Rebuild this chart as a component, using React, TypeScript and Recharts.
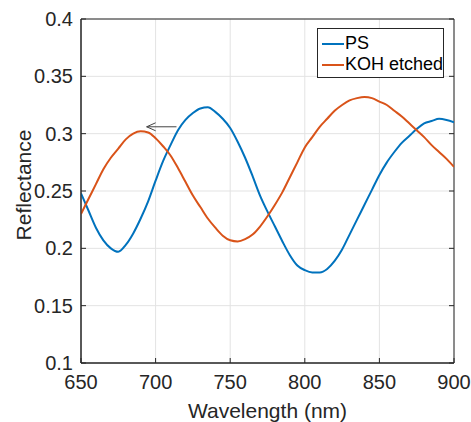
import React from "react";
import {
  CartesianGrid,
  Label,
  Legend,
  Line,
  LineChart,
  ReferenceArea,
  ReferenceLine,
  XAxis,
  YAxis,
} from "recharts";

// wavelength samples (nm), read every 5 nm off the plot
const wavelengths = [
  650, 655, 660, 665, 670, 675, 680, 685, 690, 695, 700, 705, 710, 715, 720, 725, 730, 735, 740, 745,
  750, 755, 760, 765, 770, 775, 780, 785, 790, 795, 800, 805, 810, 815, 820, 825, 830, 835, 840, 845,
  850, 855, 860, 865, 870, 875, 880, 885, 890, 895, 900,
];

const psValues = [
  0.248, 0.233, 0.218, 0.207, 0.2, 0.197, 0.203, 0.213, 0.226, 0.241, 0.259, 0.276, 0.29, 0.303, 0.312,
  0.318, 0.322, 0.323, 0.319, 0.313, 0.305, 0.293, 0.279, 0.263, 0.246, 0.232, 0.219, 0.206, 0.194, 0.185,
  0.181, 0.179, 0.179, 0.182, 0.189, 0.199, 0.212, 0.225, 0.238, 0.251, 0.264, 0.275, 0.284, 0.292, 0.298,
  0.304, 0.309, 0.311, 0.313, 0.312, 0.31,
];

const kohValues = [
  0.23, 0.243, 0.256, 0.269, 0.279, 0.287, 0.295, 0.3, 0.302, 0.301, 0.296, 0.289, 0.281, 0.27, 0.258,
  0.246, 0.236, 0.226, 0.218, 0.211, 0.207, 0.206, 0.208, 0.212, 0.219, 0.228, 0.238, 0.249, 0.262, 0.275,
  0.288, 0.297, 0.306, 0.313, 0.32, 0.325, 0.329, 0.331, 0.332, 0.331, 0.328, 0.325, 0.32, 0.315, 0.309,
  0.303, 0.297, 0.29, 0.284, 0.278, 0.271,
];

const xTicks = [650, 700, 750, 800, 850, 900];
const yTicks = [0.1, 0.15, 0.2, 0.25, 0.3, 0.35, 0.4];

const series = [
  { key: "ps", name: "PS", color: "#0072BD" },
  { key: "koh", name: "KOH etched", color: "#D95319" },
];

// arrow annotation: tail -> head (blue peak shifted to orange peak)
const arrowTail = { x: 714, y: 0.306 };
const arrowHead = { x: 694, y: 0.306 };

const data = wavelengths.map((w, i) => ({ w, ps: psValues[i], koh: kohValues[i] }));

const ink = "#262626";
const font = "'Liberation Sans', Arial, Helvetica, sans-serif";

const noTick = () => <g />;

const arrowShape = (p: any) => {
  const { x1, y1, x2, y2 } = p;
  return (
    <g stroke="#444" strokeWidth={1} fill="none">
      <line x1={x1} y1={y1} x2={x2} y2={y2} />
      <polyline points={`${x2 + 9},${y2 - 4} ${x2},${y2} ${x2 + 9},${y2 + 4}`} />
    </g>
  );
};

const LegendBox = () => (
  <div
    style={{
      border: `1px solid ${ink}`,
      background: "#fff",
      width: 127,
      height: 50,
      paddingTop: 4,
      boxSizing: "border-box",
      fontFamily: font,
      fontSize: 18,
      color: "#000",
      whiteSpace: "nowrap",
    }}
  >
    {series.map((s) => (
      <div key={s.key} style={{ display: "flex", alignItems: "center", height: 21 }}>
        <div style={{ width: 22, height: 2, background: s.color, marginLeft: 4, marginRight: 1 }} />
        <span>{s.name}</span>
      </div>
    ))}
  </div>
);

export default function App() {
  return (
    <div style={{ position: "absolute", left: 0, top: 0, background: "#fff" }}>
      <LineChart width={471} height={422} data={data} margin={{ top: 18, right: 16, bottom: 0, left: 0 }}>
        <CartesianGrid stroke="#e3e3e3" />
        <XAxis
          dataKey="w"
          type="number"
          domain={[650, 900]}
          ticks={xTicks}
          allowDataOverflow
          height={59}
          tickSize={-5}
          tickMargin={17}
          stroke={ink}
          tick={{ fill: ink, fontSize: 20, fontFamily: font }}
        >
          <Label
            value="Wavelength (nm)"
            position="insideBottom"
            offset={4}
            style={{ fill: ink, fontSize: 21, fontFamily: font }}
          />
        </XAxis>
        <YAxis
          type="number"
          domain={[0.1, 0.4]}
          ticks={yTicks}
          allowDataOverflow
          width={81}
          tickSize={-5}
          tickMargin={13}
          stroke={ink}
          tick={{ fill: ink, fontSize: 20, fontFamily: font }}
        >
          <Label
            content={(p: any) => {
              const vb = p.viewBox || {};
              const cy = vb.y + vb.height / 2 - 6;
              return (
                <text
                  x={23}
                  y={cy}
                  transform={`rotate(-90 23 ${cy})`}
                  textAnchor="middle"
                  dominantBaseline="central"
                  style={{ fill: ink, fontSize: 21, fontFamily: font }}
                >
                  Reflectance
                </text>
              );
            }}
          />
        </YAxis>
        <XAxis
          xAxisId="t"
          orientation="top"
          type="number"
          domain={[650, 900]}
          ticks={xTicks}
          allowDataOverflow
          height={1}
          tickSize={-5}
          axisLine={false}
          stroke={ink}
          tick={noTick}
        />
        <YAxis
          yAxisId="r"
          orientation="right"
          type="number"
          domain={[0.1, 0.4]}
          ticks={yTicks}
          allowDataOverflow
          width={1}
          tickSize={-5}
          axisLine={false}
          stroke={ink}
          tick={noTick}
        />
        <ReferenceArea x1={650} x2={900} y1={0.1} y2={0.4} fill="none" stroke={ink} strokeWidth={1} />
        {series.map((s) => (
          <Line
            key={s.key}
            name={s.name}
            dataKey={s.key}
            type="monotone"
            stroke={s.color}
            strokeWidth={2}
            dot={false}
            isAnimationActive={false}
          />
        ))}
        <ReferenceLine segment={[arrowTail, arrowHead]} shape={arrowShape} />
        <Legend
          layout="horizontal"
          verticalAlign="middle"
          align="center"
          content={<LegendBox />}
          wrapperStyle={{ position: "absolute", left: 317, top: 28, width: "auto", bottom: "auto" }}
        />
      </LineChart>
    </div>
  );
}
